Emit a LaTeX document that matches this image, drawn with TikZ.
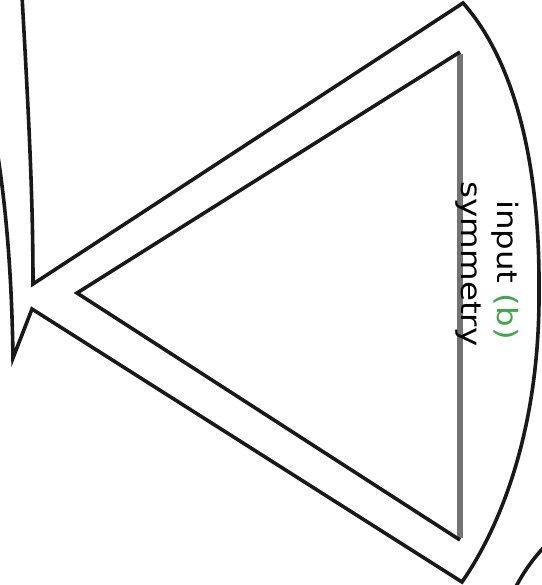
\documentclass[tikz,border=0pt]{standalone}
\usepackage{fontspec}
\setmainfont{DejaVu Sans}
\definecolor{lblgreen}{rgb}{0.25,0.65,0.3}
\tikzset{
  edge/.style={line width=3.6pt, line join=miter, black!90},
  grayedge/.style={line width=5.5pt, black!55},
  lbl/.style={rotate=-90, anchor=base, inner sep=0pt, font=\fontsize{28}{30}\selectfont}
}
\begin{document}
\begin{tikzpicture}[x=1pt,y=-1pt]
\useasboundingbox (0,0) rectangle (541,585);
% coordinates
\coordinate (ulTop) at (22,-4);
\coordinate (ulCorner) at (33,284);
\coordinate (outTop) at (463,3);
\coordinate (arcMid) at (539,290);
\coordinate (outBot) at (462,582);
\coordinate (llCorner) at (32,309);
\coordinate (llBot) at (13,358);
\coordinate (llTop) at (-3,150);
\coordinate (inTop) at (460,52);
\coordinate (inLeft) at (77,293);
\coordinate (inBot) at (460,540);
\coordinate (brA) at (513,592);
\coordinate (brB) at (545,546);
% inner gray side
\draw[grayedge] ([yshift=-2pt]inTop) -- ([yshift=2pt]inBot);
% outer contour
\draw[edge] (ulTop) .. controls (29,120) and (33,200) .. (ulCorner) -- (outTop)
  .. controls (505,50) and (540,140) .. (arcMid)
  .. controls (540,420) and (505,520) .. (outBot)
  -- (llCorner) -- (llBot) .. controls (12,290) and (8,220) .. (llTop);
% inner triangle
\draw[edge] (inTop) -- (inLeft) -- (inBot);
% fragment bottom right
\draw[edge] (brA) .. controls (522,575) and (530,562) .. (brB);
% labels
\node[lbl] (l1) at (497,270) {\scalebox{1.16}[1]{input \textcolor{lblgreen}{(b)}}};
\node[lbl] (l2) at (461,264) {\scalebox{1.16}[1]{symmetry}};
\end{tikzpicture}
\end{document}
